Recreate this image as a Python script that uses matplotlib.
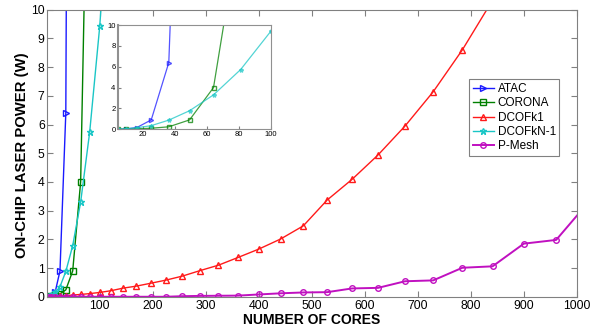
import matplotlib
matplotlib.use("Agg")
import matplotlib.pyplot as plt
import numpy as np

plt.rcParams['font.family'] = ['Liberation Sans', 'DejaVu Sans']

cores = [4, 9, 16, 25, 36, 49, 64, 81, 100, 121, 144, 169, 196, 225, 256, 289,
         324, 361, 400, 441, 484, 529, 576, 625, 676, 729, 784, 841, 900, 961, 1024]

atac_x = [4, 9, 16, 25, 36, 49]
atac_y = [0.0, 0.03, 0.17, 0.9, 6.4, 60.0]

corona_x = [4, 9, 16, 25, 36, 49, 64, 81]
corona_y = [0.0, 0.01, 0.05, 0.1, 0.24, 0.9, 4.0, 20.0]

dcofkn_x = [4, 9, 16, 25, 36, 49, 64, 81, 100, 121]
dcofkn_y = [0.01, 0.05, 0.15, 0.35, 0.88, 1.78, 3.3, 5.73, 9.42, 15.0]

dcofk1_y = [0.0, 0.01, 0.02, 0.03, 0.04, 0.06, 0.08, 0.11, 0.15, 0.21, 0.30, 0.37,
            0.47, 0.58, 0.72, 0.91, 1.10, 1.37, 1.66, 2.01, 2.47, 3.37, 4.09, 4.94,
            5.95, 7.14, 8.6, 10.33, 12.2, 14.4, 16.8]

pmesh_y = [0.0, 0.0, 0.0, 0.0, 0.0, 0.0, 0.0, 0.0, 0.0, 0.0, 0.0, 0.0, 0.0, 0.0,
           0.02, 0.03, 0.035, 0.04, 0.08, 0.12, 0.15, 0.16, 0.29, 0.31, 0.54, 0.57,
           1.01, 1.06, 1.85, 1.98, 3.34]

c_atac = '#1a1aff'
c_corona = '#008000'
c_k1 = '#ff1a1a'
c_kn = '#1ac6c6'
c_pm = '#c010c0'

fig = plt.figure(figsize=(5.99, 3.29), dpi=100)
ax = fig.add_axes([0.078, 0.098, 0.885, 0.8725])

ms = 4
ax.plot(atac_x, atac_y, color=c_atac, marker='>', mfc='none', ms=ms, lw=1.0, label='ATAC')
ax.plot(corona_x, corona_y, color=c_corona, marker='s', mfc='none', ms=ms, lw=1.0, label='CORONA')
ax.plot(cores, dcofk1_y, color=c_k1, marker='^', mfc='none', ms=ms, lw=1.0, label='DCOFk1')
ax.plot(dcofkn_x, dcofkn_y, color=c_kn, marker='*', mfc='none', ms=4.5, lw=1.0, label='DCOFkN-1')
ax.plot(cores, pmesh_y, color=c_pm, marker='o', mfc='none', ms=ms, lw=1.4, label='P-Mesh')

ax.set_xlim(0, 1000)
ax.set_ylim(0, 10)
ax.set_xticks(range(100, 1001, 100))
ax.set_yticks(range(0, 11))
ax.tick_params(direction='in', top=True, right=True, labelsize=8.8, length=4,
               color='#808080')
ax.tick_params(axis='x', pad=2)
ax.tick_params(axis='y', pad=1.5)
for s in ax.spines.values():
    s.set_color('#808080')
ax.set_xlabel('NUMBER OF CORES', fontsize=10, fontweight='bold', va='center')
ax.xaxis.set_label_coords(0.5, -0.081)
ax.set_ylabel('ON-CHIP LASER POWER (W)', fontsize=10.7, fontweight='bold', va='center')
ax.yaxis.set_label_coords(-0.0466, 0.494)

leg = ax.legend(loc='upper left', bbox_to_anchor=(0.797, 0.757), fontsize=8.5,
                frameon=True, fancybox=False, edgecolor='#606060', handlelength=1.8,
                handletextpad=0.3, borderpad=0.3, labelspacing=0.2, borderaxespad=0)
leg.get_frame().set_linewidth(0.8)

ins = fig.add_axes([0.1965, 0.607, 0.2559, 0.317])
a = 0.75
ins.plot(atac_x, atac_y, color=c_atac, marker='>', mfc='none', ms=3, lw=0.9, alpha=a)
ins.plot(corona_x, corona_y, color=c_corona, marker='s', mfc='none', ms=3, lw=0.9, alpha=a)
ins.plot(dcofkn_x, dcofkn_y, color=c_kn, marker='*', mfc='none', ms=3, lw=0.9, alpha=a)
ins.set_xlim(4, 100)
ins.set_ylim(0, 10)
ins.set_xticks([20, 40, 60, 80, 100])
ins.set_yticks([0, 2, 4, 6, 8, 10])
ins.tick_params(direction='in', labelsize=5.5, length=2, pad=1.5, color='#808080')
for s in ins.spines.values():
    s.set_color('#909090')
ins.spines['left'].set_linewidth(1.5)

fig.savefig('out.png', dpi=100)
